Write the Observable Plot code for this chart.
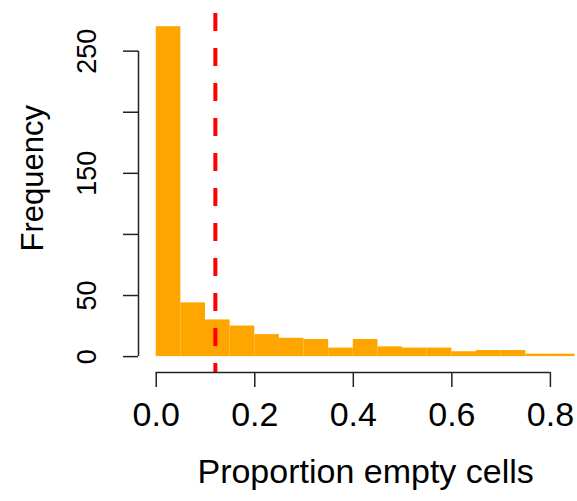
<!DOCTYPE html>
<html>
<head>
<meta charset="utf-8">
<script src="https://cdn.jsdelivr.net/npm/d3@7"></script>
<script src="https://cdn.jsdelivr.net/npm/@observablehq/plot@0.6"></script>
<style>
  html, body { margin: 0; padding: 0; background: #fff; overflow: hidden; }
</style>
</head>
<body>
<div id="chart"></div>
<script>
// Histogram bins (proportion of empty cells) and their frequencies
const binStarts = [0.00, 0.05, 0.10, 0.15, 0.20, 0.25, 0.30, 0.35, 0.40, 0.45, 0.50, 0.55, 0.60, 0.65, 0.70, 0.75, 0.80];
const binWidth = 0.05;
const counts    = [270, 44, 30, 25, 18, 15, 14, 7, 14, 8, 7, 7, 4, 5, 5, 2, 2];
const threshold = 0.12;
const xTicks = [0.0, 0.2, 0.4, 0.6, 0.8];
const yTicks = [0, 50, 100, 150, 200, 250];
const yTickLabels = [0, 50, 150, 250];
const xLabel = "Proportion empty cells";
const yLabel = "Frequency";

const bins = binStarts.map((s, i) => ({x1: s, x2: s + binWidth, count: counts[i]}));
const xDomain = [-0.036, 0.855];
const yDomain = [-13, 280.8];
const ink = "#222";
const font = "Liberation Sans, Arial, Helvetica, sans-serif";

const chart = Plot.plot({
  width: 577,
  height: 501,
  marginLeft: 138,
  marginRight: 0,
  marginTop: 13,
  marginBottom: 129,
  style: {fontFamily: font, background: "#fff", color: "#000"},
  x: {domain: xDomain},
  y: {domain: yDomain},
  marks: [
    Plot.rectY(bins, {x1: "x1", x2: "x2", y: "count", fill: "#FFA500", inset: 0}),
    Plot.ruleX([threshold], {stroke: "#FF0000", strokeWidth: 4, strokeDasharray: "18,17"}),
    // y axis
    Plot.axisY({ticks: yTicks, tickSize: 15, tickFormat: () => "", stroke: ink, strokeWidth: 1.5, label: null}),
    Plot.ruleX([xDomain[0]], {y1: 0, y2: 250, stroke: ink, strokeWidth: 1.5}),
    Plot.text(yTickLabels, {x: xDomain[0], y: d => d, text: d => String(d), dx: -51, rotate: -90,
      fontSize: 27, fill: "#000", textAnchor: "middle", lineAnchor: "middle"}),
    Plot.text([yLabel], {x: xDomain[0], y: 146, text: d => d, dx: -105, rotate: -90,
      fontSize: 31, fill: "#000", textAnchor: "middle", lineAnchor: "middle"}),
    // x axis
    Plot.axisX({ticks: xTicks, tickSize: 15, tickFormat: () => "", stroke: ink, strokeWidth: 1.5, label: null}),
    Plot.ruleY([yDomain[0]], {x1: xTicks[0], x2: xTicks[xTicks.length - 1], stroke: ink, strokeWidth: 1.5}),
    Plot.text(xTicks, {x: d => d, y: yDomain[0], text: d => d.toFixed(1), dy: 43,
      fontSize: 34, fill: "#000", textAnchor: "middle", lineAnchor: "middle"}),
    Plot.text([xLabel], {x: 0.425, y: yDomain[0], text: d => d, dy: 100,
      fontSize: 34, fill: "#000", textAnchor: "middle", lineAnchor: "middle"})
  ]
});
document.getElementById("chart").appendChild(chart);
</script>
</body>
</html>
